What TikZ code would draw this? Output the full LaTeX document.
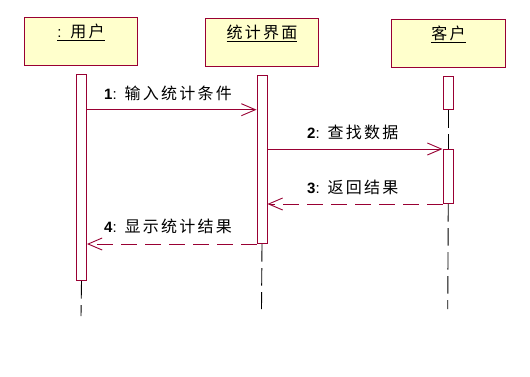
\documentclass[tikz,border=0pt]{standalone}
\usepackage{fontspec}
\setmainfont{Liberation Sans}
\newfontfamily\cjkfont[LetterSpace=14]{Noto Sans CJK SC}
\usetikzlibrary{arrows.meta,calc}
\definecolor{umlred}{HTML}{990033}
\definecolor{umlfill}{HTML}{FFFFCC}
\newcommand{\zhtxt}[1]{{\fontsize{16pt}{18pt}\cjkfont #1}}
\newcommand{\msgtxt}[2]{{\fontsize{15pt}{17pt}\selectfont\textbf{#1}:\hspace{8pt}\zhtxt{#2}}}
\begin{document}
\begin{tikzpicture}[x=1pt,y=-1pt,
  objbox/.style={draw=umlred, fill=umlfill, line width=1pt, minimum width=113pt,
    minimum height=48pt, inner sep=0pt, anchor=north west},
  actbar/.style={draw=umlred, fill=white, line width=1pt, minimum width=10pt,
    inner sep=0pt, anchor=north west},
  lifeline/.style={draw=black, line width=0.9pt, dash pattern=on 17.5pt off 6.5pt},
  msg/.style={draw=umlred, line width=0.9pt,
    -{Straight Barb[length=14pt,width=12pt,line width=0.9pt]}},
  retmsg/.style={msg, dash pattern=on 16pt off 8pt},
  lbl/.style={inner sep=0pt, anchor=base west},
  ttl/.style={inner sep=0pt, anchor=base, font=\fontsize{15pt}{17pt}\selectfont}]
\fill[white] (0,0) rectangle (530,376);
\useasboundingbox (0,0) rectangle (530,376);

% objects
\node[objbox] (box1) at (24,17) {};
\node[objbox] (box2) at (205,18) {};
\node[objbox, minimum width=114pt] (box3) at (391,19) {};
\node[ttl] (t1) at ([yshift=-20.5pt]box1.north) {\underline{:\hspace{9pt}\zhtxt{用户}}};
\node[ttl] (t2) at ([yshift=-20.5pt]box2.north) {\underline{\zhtxt{统计界面}}};
\node[ttl] (t3) at ([yshift=-20.5pt]box3.north) {\underline{\zhtxt{客户}}};

% activation bars
\node[actbar, minimum height=206pt] (bar1) at (76,74) {};
\node[actbar, minimum height=168pt] (bar2) at (256.5,75) {};
\node[actbar, minimum width=10.5pt, minimum height=33pt] (bar3a) at (442.5,76) {};
\node[actbar, minimum width=10.5pt, minimum height=54pt] (bar3b) at (442.5,149) {};

% lifeline ends
\coordinate (e1) at (81,316);
\coordinate (e2) at (261.5,309);
\coordinate (e3) at (447.75,309);
\draw[lifeline] (bar1.south) -- (e1);
\draw[lifeline] (bar2.south) -- (e2);
\draw[lifeline] (bar3a.south) -- (bar3b.north);
\draw[lifeline] (bar3b.south) -- (e3);

% messages
\coordinate (m1) at ([yshift=-35.7pt]bar1.north east);
\draw[msg] (m1) -- (bar2.west |- m1);
\draw[msg] (bar2.east |- bar3b.north west) -- (bar3b.north west);
\draw[retmsg] (bar3b.south west) -- (bar2.east |- bar3b.south west);
\draw[retmsg] (bar2.south west) -- (bar1.east |- bar2.south west);

% labels
\node[lbl] (l1) at (104,99.3) {\msgtxt{1}{输入统计条件}};
\node[lbl] (l2) at (307,138.3) {\msgtxt{2}{查找数据}};
\node[lbl] (l3) at (307,193.3) {\msgtxt{3}{返回结果}};
\node[lbl] (l4) at (104,232.3) {\msgtxt{4}{显示统计结果}};
\end{tikzpicture}
\end{document}
